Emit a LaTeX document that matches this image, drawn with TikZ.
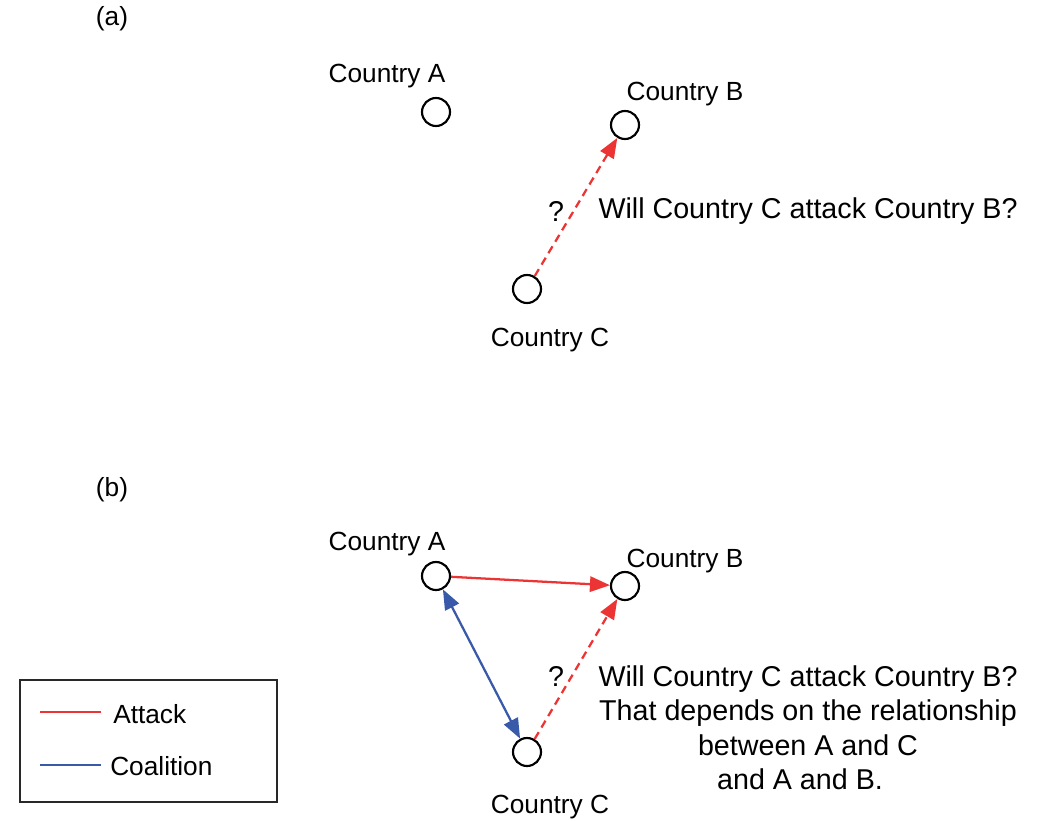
\documentclass[tikz,border=0pt]{standalone}
\usepackage{fontspec}
\setmainfont{Liberation Sans}
\usetikzlibrary{arrows.meta}
\definecolor{atk}{RGB}{236,52,52}
\definecolor{coal}{RGB}{56,90,168}
\definecolor{frame}{RGB}{40,40,40}
\begin{document}
\begin{tikzpicture}[x=0.75pt,y=-0.75pt,
  country/.style={circle,draw=black,line width=1.6pt,minimum size=21pt,inner sep=0pt},
  lbl/.style={font=\fontsize{19.7}{23}\selectfont,inner sep=0pt},
  qtext/.style={font=\fontsize{21.5}{25.9}\selectfont,inner sep=0pt,align=center},
  tip/.style={-{Triangle[length=15pt,width=11.5pt]}},
  attack/.style={draw=atk,line width=1.7pt,tip},
  attackq/.style={draw=atk,line width=1.7pt,dash pattern=on 6pt off 4pt,tip},
  coalition/.style={draw=coal,line width=1.7pt,{Triangle[length=15pt,width=11.5pt]}-{Triangle[length=15pt,width=11.5pt]}}]
\useasboundingbox (0,0) rectangle (1041,820);
% (a)
\node[lbl] (la) at (112,19) {(a)};
\node[country] (aA) at (436,112) {};
\node[country] (aB) at (625,125) {};
\node[country] (aC) at (527,289) {};
\node[lbl] (aAl) at (387,76) {Country A};
\node[lbl] (aBl) at (685,94) {Country B};
\node[lbl] (aCl) at (550,340) {Country C};
\draw[attackq] (aC) -- (aB);
\node[qtext] (aq) at (556,211) {?};
\node[qtext] (aqt) at (808,211) {Will Country C attack Country B?};
% (b)
\node[lbl] (lb) at (112,490) {(b)};
\node[country] (bA) at (436,576) {};
\node[country] (bB) at (625,586) {};
\node[country] (bC) at (527,752) {};
\node[lbl] (bAl) at (387,544) {Country A};
\node[lbl] (bBl) at (685,561) {Country B};
\node[lbl] (bCl) at (550,807) {Country C};
\draw[attack] (bA) -- (bB);
\draw[coalition] (bA) -- (bC);
\draw[attackq] (bC) -- (bB);
\node[qtext] (bq) at (556,676) {?};
\node[qtext,anchor=north] (bqt) at (808,665) {Will Country C attack Country B?\\That depends on the relationship\\between A and C\\and A and B.\hspace*{12pt}};
% legend
\node[draw=frame,line width=1.5pt,minimum width=257*0.75pt,minimum height=122*0.75pt,inner sep=0pt] (leg) at (148.5,741) {};
\coordinate (r1) at (40,712);
\coordinate (r2) at (101,712);
\coordinate (b1) at (40,765);
\coordinate (b2) at (101,765);
\draw[atk,line width=2pt] (r1) -- (r2);
\draw[coal,line width=2pt] (b1) -- (b2);
\node[lbl,anchor=west] (lat) at (113,714) {Attack};
\node[lbl,anchor=west] (lco) at (110,766) {Coalition};
\end{tikzpicture}
\end{document}
